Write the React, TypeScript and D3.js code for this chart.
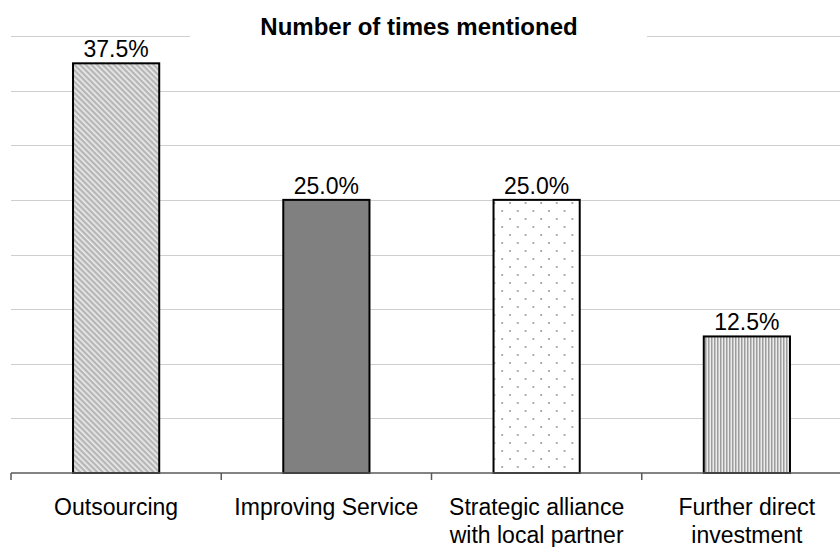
import React from "react";
import * as d3 from "d3";

const categories: string[][] = [
  ["Outsourcing"],
  ["Improving Service"],
  ["Strategic alliance", "with local partner"],
  ["Further direct", "investment"],
];
const values: number[] = [37.5, 25.0, 25.0, 12.5];
const fills: string[] = ["url(#diag)", "#808080", "url(#dots)", "url(#vlines)"];
const yTicks: number[] = [0, 5, 10, 15, 20, 25, 30, 35, 40];
const title = "Number of times mentioned";

const W = 840;
const H = 547;
const plotLeft = 11;
const plotRight = 852;
const plotTop = 36;
const plotBottom = 473;
const font = "'Liberation Sans', Arial, sans-serif";

export default function App() {
  const keys = categories.map((c) => c.join(" "));
  const x = d3
    .scaleBand<string>()
    .domain(keys)
    .range([plotLeft, plotRight])
    .paddingInner(0.59)
    .paddingOuter(0.295);
  const y = d3.scaleLinear().domain([0, 40]).range([plotBottom, plotTop]);
  const step = x.step();
  const boundaries = d3.range(keys.length + 1).map((i) => plotLeft + i * step);

  return (
    <svg
      width={W}
      height={H}
      style={{ position: "absolute", left: 0, top: 0, background: "#fff" }}
    >
      <defs>
        <pattern
          id="diag"
          patternUnits="userSpaceOnUse"
          width={4}
          height={4}
          patternTransform="rotate(-45)"
        >
          <rect width={4} height={4} fill="#b6b6b6" />
          <rect x={0} width={1.6} height={4} fill="#ededed" />
        </pattern>
        <pattern id="vlines" patternUnits="userSpaceOnUse" width={3} height={3}>
          <rect width={3} height={3} fill="#ececec" />
          <rect x={0} width={1.5} height={3} fill="#9c9c9c" />
        </pattern>
        <pattern id="dots" patternUnits="userSpaceOnUse" width={15.6} height={16}>
          <rect width={15.6} height={16} fill="#ffffff" />
          <circle cx={3} cy={3} r={0.9} fill="#8a8a8a" />
          <circle cx={10.8} cy={11} r={0.9} fill="#8a8a8a" />
        </pattern>
      </defs>

      {/* horizontal gridlines */}
      {yTicks.slice(1).map((t) => (
        <line
          key={t}
          x1={plotLeft}
          x2={W}
          y1={Math.round(y(t)) + 0.5}
          y2={Math.round(y(t)) + 0.5}
          stroke="#cfcfcf"
          strokeWidth={1}
        />
      ))}

      {/* title with white backing */}
      <rect x={190} y={12} width={457} height={34} fill="#fff" />
      <text
        x={419}
        y={35}
        textAnchor="middle"
        fontFamily={font}
        fontWeight="bold"
        fontSize={24}
        fill="#000"
      >
        {title}
      </text>

      {/* bars */}
      {keys.map((k, i) => (
        <g key={k}>
          <rect
            x={x(k)}
            y={y(values[i])}
            width={x.bandwidth()}
            height={plotBottom - y(values[i])}
            fill={fills[i]}
            stroke="#000"
            strokeWidth={2}
          />
          <text
            x={(x(k) as number) + x.bandwidth() / 2}
            y={y(values[i]) - 6}
            textAnchor="middle"
            fontFamily={font}
            fontSize={23}
            fill="#000"
          >
            {values[i].toFixed(1)}%
          </text>
        </g>
      ))}

      {/* category axis */}
      <line
        x1={plotLeft}
        x2={W}
        y1={plotBottom}
        y2={plotBottom}
        stroke="#5a5a5a"
        strokeWidth={1.5}
      />
      {boundaries.map((bx, i) => (
        <line
          key={i}
          x1={bx}
          x2={bx}
          y1={plotBottom}
          y2={plotBottom + 7}
          stroke="#5a5a5a"
          strokeWidth={1.5}
        />
      ))}
      {keys.map((k, i) => (
        <text
          key={k}
          x={(x(k) as number) + x.bandwidth() / 2}
          y={515}
          textAnchor="middle"
          fontFamily={font}
          fontSize={23}
          fill="#000"
        >
          {categories[i].map((line, j) => (
            <tspan key={j} x={(x(k) as number) + x.bandwidth() / 2} dy={j === 0 ? 0 : 28}>
              {line}
            </tspan>
          ))}
        </text>
      ))}
    </svg>
  );
}
